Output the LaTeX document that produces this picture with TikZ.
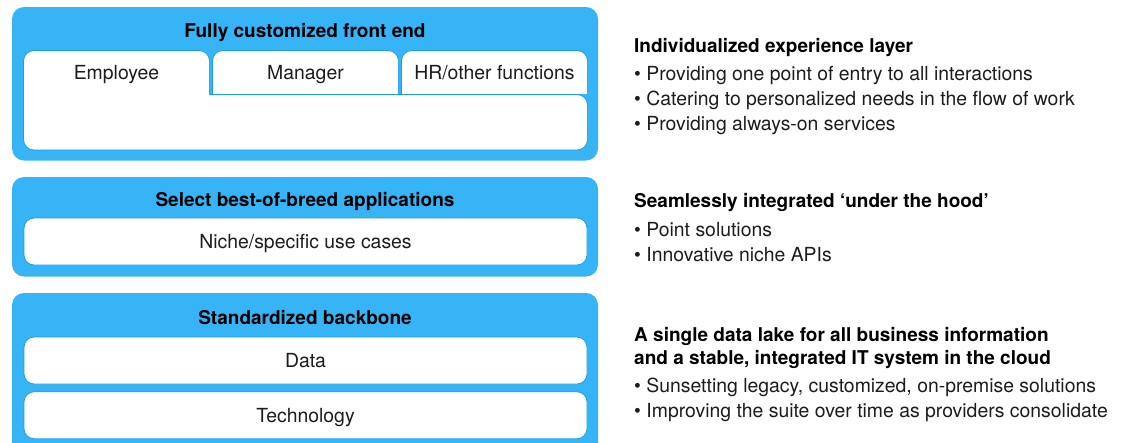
\documentclass[tikz,border=0pt]{standalone}
\usepackage{fontspec}
\setmainfont{TeX Gyre Heros}
\usepackage{xcolor}
\usepackage{tikz}

\definecolor{layerblue}{HTML}{37B4F6}
\definecolor{edgeblue}{HTML}{1A9FE6}
\definecolor{inkgray}{HTML}{1C1C1C}

\tikzset{
  layer/.style={fill=layerblue, rounded corners=12pt},
  tabedge/.style={edgeblue, line width=1.6pt, rounded corners=10pt},
  tabfill/.style={white, rounded corners=10pt},
  panelbox/.style={draw=edgeblue, fill=white, line width=0.8pt, rounded corners=10pt,
    minimum width=563pt, minimum height=47pt, text height=13.5pt, text depth=0pt,
    font=\fontsize{19.4}{23}\selectfont, text=inkgray},
  layertitle/.style={font=\fontsize{19}{23}\selectfont\bfseries, anchor=base, inner sep=0pt},
  tabtext/.style={font=\fontsize{19.4}{23}\selectfont, text=inkgray, anchor=base, inner sep=0pt},
  sidehead/.style={font=\fontsize{19}{23}\selectfont\bfseries, anchor=base west, inner sep=0pt},
  sideitem/.style={font=\fontsize{19.4}{23}\selectfont, text=inkgray, anchor=base west, inner sep=0pt},
}

\begin{document}
\begin{tikzpicture}[x=1pt,y=-1pt]
\useasboundingbox (0,0) rectangle (1123,442);
\clip (0,0) rectangle (1123,442);

% the three layers
\fill[layer] (12,7) rectangle (598,160.5);
\fill[layer] (12,177) rectangle (598,276.5);
\fill[layer] (12,293) rectangle (598,460);

% employee tab joined to the panel below it
\draw[tabedge] (24,51) rectangle (209,140) (24,95) rectangle (587,149.5);
\fill[tabfill] (24,51) rectangle (209,140) (24,95) rectangle (587,149.5);

% manager and HR tabs
\begin{scope}
\clip (200,40) rectangle (600,93.6);
\draw[tabedge] (213,51) rectangle (398,120) (402,51) rectangle (587,120);
\fill[tabfill] (213,51) rectangle (398,120) (402,51) rectangle (587,120);
\end{scope}

\node[layertitle] (fronttitle) at (305,37) {Fully customized front end};
\node[tabtext] (employee) at (116.5,79.5) {Employee};
\node[tabtext] (manager) at (305.5,79.5) {Manager};
\node[tabtext] (hrother) at (494.5,79.5) {HR/other functions};

\node[layertitle] (apptitle) at (305,206) {Select best-of-breed applications};
\node[panelbox] (niche) at (305.5,241.5) {Niche/specific use cases};

\node[layertitle] (backtitle) at (305,324.5) {Standardized backbone};
\node[panelbox] (data) at (305.5,360.5) {Data};
\node[panelbox] (technology) at (305.5,415.25) {Technology};

% text on the right
\node[sidehead] (exphead) at (634,52.5) {Individualized experience layer};
\node[sideitem] (exp1) at (634,80.5) {• Providing one point of entry to all interactions};
\node[sideitem] (exp2) at (634,105.5) {• Catering to personalized needs in the flow of work};
\node[sideitem] (exp3) at (634,130.5) {• Providing always-on services};

\node[sidehead] (apphead) at (634,207.5) {Seamlessly integrated ‘under the hood’};
\node[sideitem] (app1) at (634,236) {• Point solutions};
\node[sideitem] (app2) at (634,261) {• Innovative niche APIs};

\node[sidehead] (backhead1) at (634,341.5) {A single data lake for all business information};
\node[sidehead] (backhead2) at (634,364.5) {and a stable, integrated IT system in the cloud};
\node[sideitem] (back1) at (634,392.5) {• Sunsetting legacy, customized, on-premise solutions};
\node[sideitem] (back2) at (634,417.5) {• Improving the suite over time as providers consolidate};

\end{tikzpicture}
\end{document}
